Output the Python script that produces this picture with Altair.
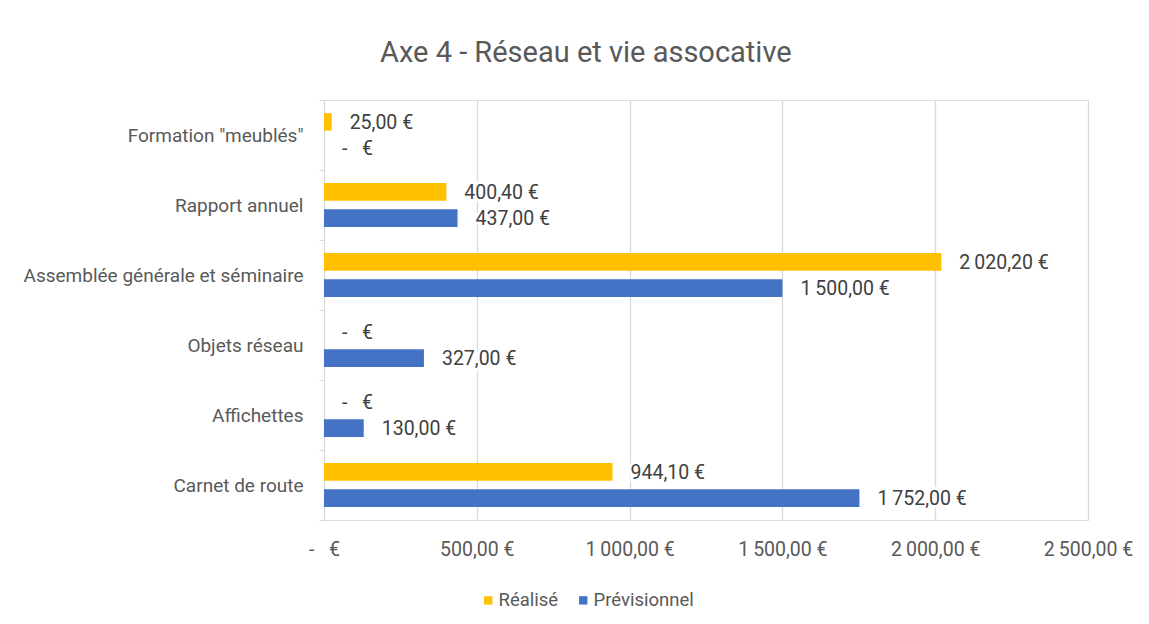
import altair as alt
import pandas as pd

categories = ['Formation "meublés"', "Rapport annuel", "Assemblée générale et séminaire",
              "Objets réseau", "Affichettes", "Carnet de route"]
series = ["Réalisé", "Prévisionnel"]
realise = [25.00, 400.40, 2020.20, 0.0, 0.0, 944.10]
previsionnel = [0.0, 437.00, 1500.00, 327.00, 130.00, 1752.00]
colors = ["#FFC000", "#4472C4"]
x_ticks = [0, 500, 1000, 1500, 2000, 2500]

NB = "\u00a0"


def fmt(v):
    if v == 0:
        return "-" + NB * 3 + "€"
    return f"{v:,.2f}".replace(",", "\u2009").replace(".", ",") + NB + "€"


rows = []
for i, c in enumerate(categories):
    for s, vals in zip(series, [realise, previsionnel]):
        rows.append({"cat": c, "series": s, "value": vals[i], "label": fmt(vals[i])})
df = pd.DataFrame(rows)

FONT = "Roboto"
GREY = "#595959"

y_enc = alt.Y("cat:N", sort=categories,
              scale=alt.Scale(paddingInner=0, paddingOuter=0),
              axis=alt.Axis(title=None, tickBand="extent", tickSize=5, tickColor="#d9d9d9",
                            domainColor="#d9d9d9", labelFontSize=19, labelColor=GREY,
                            labelFont=FONT, labelPadding=16, labelLimit=0, grid=False))
yoff_enc = alt.YOffset("series:N", sort=series,
                       scale=alt.Scale(domain=series, paddingInner=0.33, paddingOuter=0.5))
x_enc = alt.X("value:Q",
              scale=alt.Scale(domain=[0, 2500], nice=False),
              axis=alt.Axis(title=None, values=x_ticks, domain=False, ticks=False,
                            gridColor="#d9d9d9", gridWidth=1.3, labelFontSize=19.5,
                            labelColor=GREY, labelFont=FONT, labelPadding=20,
                            labelFlush=False, labelLimit=0,
                            labelExpr="datum.value == 0 ? '-\u00a0\u00a0\u00a0€' : replace(replace(format(datum.value, ',.2f'), ',', '\u2009'), '.', ',') + '\u00a0€'"))

base = alt.Chart(df).encode(y=y_enc, yOffset=yoff_enc)

bars = base.mark_bar().encode(
    x=x_enc,
    color=alt.Color("series:N", sort=series,
                    scale=alt.Scale(domain=series, range=colors),
                    legend=alt.Legend(title=None, orient="none", legendX=155, legendY=491,
                                      direction="horizontal", symbolType="square",
                                      symbolSize=70, labelFontSize=18.5, labelColor=GREY,
                                      labelFont=FONT, columnPadding=15, labelOffset=1,
                                      symbolStrokeWidth=0))
)

halo = base.mark_text(align="left", baseline="middle", dx=18, dy=1, fontSize=19.5,
                      font=FONT, color="white", stroke="white", strokeWidth=6).encode(
    x="value:Q", text="label:N")

text = base.mark_text(align="left", baseline="middle", dx=18, dy=1, fontSize=19.5,
                      font=FONT, color="#404040").encode(
    x="value:Q", text="label:N")

chart = (bars + halo + text).properties(
    width=764, height=420,
    title=alt.TitleParams("Axe 4 - Réseau et vie assocative", fontSize=29, font=FONT,
                          fontWeight="normal", color=GREY, anchor="middle",
                          frame="bounds", offset=23, dx=8),
    autosize=alt.AutoSizeParams(type="none"),
    padding={"left": 316, "top": 92, "right": 53, "bottom": 96},
).configure_view(stroke=None).configure(background="white")

chart.save("out.html", embed_options={"renderer": "svg", "actions": False})
